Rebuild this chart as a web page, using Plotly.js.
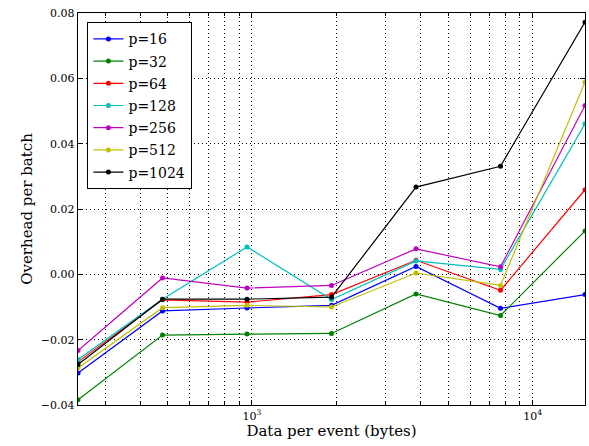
<!DOCTYPE html>
<html>
<head>
<meta charset="utf-8">
<script src="https://cdn.plot.ly/plotly-3.0.1.min.js"></script>
<style>html,body{margin:0;padding:0;background:#fff;}#chart{width:589px;height:446px;}</style>
</head>
<body>
<div id="chart"></div>
<script>
const bytes = [240, 480, 960, 1920, 3840, 7680, 15360];
const seriesNames = ["p=16", "p=32", "p=64", "p=128", "p=256", "p=512", "p=1024"];
const p16   = [-0.0302, -0.0112, -0.0103, -0.0095, 0.0024, -0.0104, -0.0062];
const p32   = [-0.0384, -0.0186, -0.0183, -0.0181, -0.0060, -0.0126, 0.0133];
const p64   = [-0.0268, -0.0078, -0.0085, -0.0062, 0.0043, -0.0049, 0.0259];
const p128  = [-0.0261, -0.0076, 0.0084, -0.0077, 0.0041, 0.0015, 0.0461];
const p256  = [-0.0233, -0.0011, -0.0042, -0.0034, 0.0078, 0.0023, 0.0517];
const p512  = [-0.0287, -0.0102, -0.0095, -0.0100, 0.0004, -0.0034, 0.0589];
const p1024 = [-0.0276, -0.0076, -0.0076, -0.0070, 0.0267, 0.0331, 0.0772];
const yTickVals = [-0.04, -0.02, 0, 0.02, 0.04, 0.06, 0.08];
const xTickVals = [1000, 10000];
const xTickText = ["10<sup>3</sup>", "10<sup>4</sup>"];
const xMinorVals = [300,400,500,600,700,800,900,2000,3000,4000,5000,6000,7000,8000,9000];

const colors = ["#0000ff", "#008000", "#ff0000", "#00bfbf", "#bf00bf", "#bfbf00", "#000000"];
const allSeries = [p16, p32, p64, p128, p256, p512, p1024];

const traces = allSeries.map((ys, i) => ({
  x: bytes, y: ys, name: seriesNames[i], type: 'scatter', mode: 'lines+markers',
  legendgroup: 'g' + i,
  line: {color: colors[i], width: 1.2},
  marker: {color: colors[i], size: 5}
}));

const font = "DejaVu Serif";
const dots = '1px,3px';
const layout = {
  width: 589, height: 446,
  margin: {l: 78, r: 4, t: 13, b: 41},
  paper_bgcolor: '#fff', plot_bgcolor: '#fff',
  font: {family: font, color: '#000', size: 11},
  showlegend: true,
  legend: {
    x: 0.018, y: 0.977, xanchor: 'left', yanchor: 'top',
    bgcolor: '#fff', bordercolor: '#000', borderwidth: 1.3,
    tracegroupgap: 1,
    font: {family: font, size: 14, color: '#000'}
  },
  xaxis: {
    type: 'log',
    range: [Math.log10(240), Math.log10(15360)],
    tickmode: 'array', tickvals: xTickVals, ticktext: xTickText,
    ticks: 'inside', ticklen: 5, tickcolor: '#000',
    showgrid: true, gridcolor: '#000', gridwidth: 1, griddash: dots,
    minor: {tickmode: 'array', tickvals: xMinorVals, ticks: 'inside', ticklen: 3, tickcolor: '#000',
            showgrid: true, gridcolor: '#000', gridwidth: 1, griddash: dots},
    showline: true, linecolor: '#000', linewidth: 1.3, mirror: 'ticks',
    zeroline: false,
    title: {text: 'Data per event (bytes)', font: {family: font, size: 15}, standoff: 2},
    tickfont: {family: font, size: 11}
  },
  yaxis: {
    range: [-0.04, 0.08],
    tickmode: 'array', tickvals: yTickVals, tickformat: '.2f',
    ticks: 'inside', ticklen: 5, tickcolor: '#000',
    showgrid: true, gridcolor: '#000', gridwidth: 1, griddash: dots,
    showline: true, linecolor: '#000', linewidth: 1.3, mirror: 'ticks',
    zeroline: false,
    title: {text: 'Overhead per batch', font: {family: font, size: 15}, standoff: 4},
    tickfont: {family: font, size: 11}
  }
};

Plotly.newPlot('chart', traces, layout, {displayModeBar: false, staticPlot: true});
</script>
</body>
</html>
